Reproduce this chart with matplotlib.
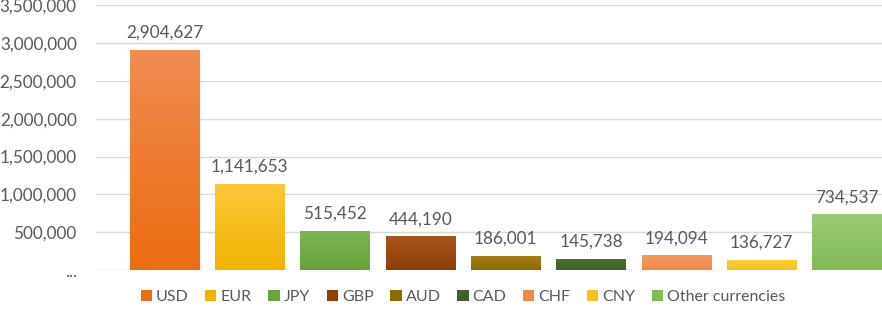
import matplotlib.pyplot as plt
from matplotlib.patches import Patch
import matplotlib.colors as mcolors
import numpy as np

plt.rcParams['font.family'] = ['Lato', 'DejaVu Sans']

currencies = ['USD', 'EUR', 'JPY', 'GBP', 'AUD', 'CAD', 'CHF', 'CNY', 'Other currencies']
values = [2904627, 1141653, 515452, 444190, 186001, 145738, 194094, 136727, 734537]
tick_values = [0, 500000, 1000000, 1500000, 2000000, 2500000, 3000000, 3500000]
tick_labels = ['...', '500,000', '1,000,000', '1,500,000', '2,000,000', '2,500,000', '3,000,000', '3,500,000']

# (top, bottom) gradient colours, Excel style
colors = [('#F08C50', '#EC6C12'), ('#FFC73A', '#F0B400'), ('#7DB556', '#68A33C'),
          ('#A9541C', '#8E3E08'), ('#A47E14', '#8D6A00'), ('#4B7331', '#3D6126'),
          ('#F39A60', '#EE8A48'), ('#FFCF3C', '#F7C21E'), ('#9ACB74', '#82BA58')]

text_color = '#595959'

fig = plt.figure(figsize=(8.82, 3.17), dpi=100)
ax = fig.add_axes([0.109, 0.148, 0.891, 0.836])

x = np.arange(len(currencies))
bars = ax.bar(x, values, width=0.81, color=[c[1] for c in colors], zorder=2)

# gradient fill clipped to each bar
for b, (top, bot) in zip(bars, colors):
    cmap = mcolors.LinearSegmentedColormap.from_list('g', [bot, top])
    grad = np.linspace(0, 1, 64).reshape(-1, 1)
    x0, y0 = b.get_x(), b.get_y()
    im = ax.imshow(grad, cmap=cmap, aspect='auto', origin='lower',
                   extent=[x0, x0 + b.get_width(), y0, y0 + b.get_height()], zorder=3)
    im.set_clip_path(b)

for xi, v in zip(x, values):
    ax.text(xi, v + 120000, f'{v:,}', ha='center', va='bottom', fontsize=12.3, color=text_color)

ax.set_xlim(-0.8, 8.41)
ax.set_ylim(0, 3500000)
ax.set_yticks(tick_values)
ax.set_yticklabels(tick_labels, fontsize=12.3, color=text_color)
ax.set_xticks([])
ax.tick_params(axis='y', length=0, pad=14)
ax.grid(axis='y', color='#D9D9D9', linewidth=1, zorder=0)
for s in ax.spines.values():
    s.set_visible(False)

handles = [Patch(facecolor=c[1], edgecolor='none') for c in colors]
fig.legend(handles, currencies, loc='center', bbox_to_anchor=(0.525, 0.062), ncol=9,
           frameon=False, fontsize=11.5, labelcolor=text_color, handlelength=0.7,
           handleheight=0.7, handletextpad=0.25, columnspacing=1.05)

fig.savefig('out.png', dpi=100)
